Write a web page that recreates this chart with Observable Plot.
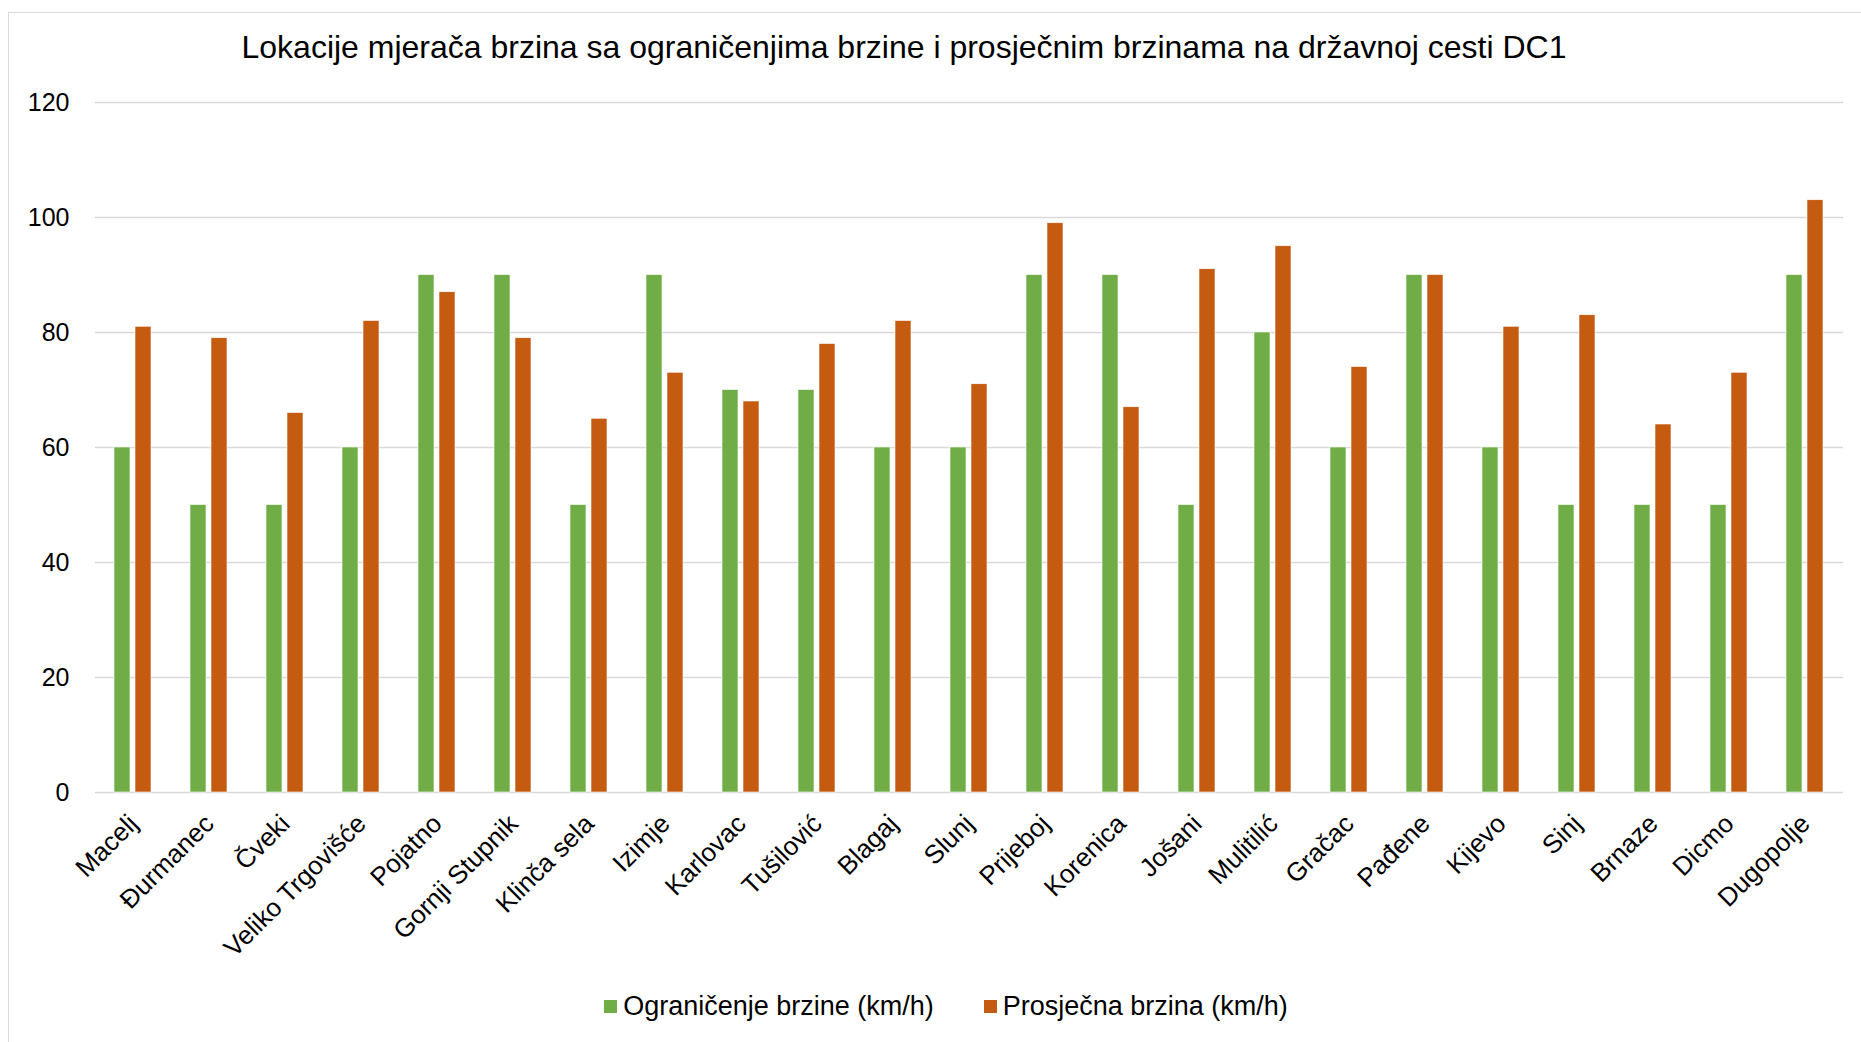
<!DOCTYPE html>
<html>
<head>
<meta charset="utf-8">
<script src="https://cdn.jsdelivr.net/npm/d3@7"></script>
<script src="https://cdn.jsdelivr.net/npm/@observablehq/plot@0.6"></script>
<style>
  html, body { margin: 0; padding: 0; background: #fff; }
  #page { position: relative; width: 1861px; height: 1042px; overflow: hidden; font-family: "Liberation Sans", Arial, sans-serif; color: #000; }
  #frame { position: absolute; left: 8px; top: 12px; width: 1900px; height: 1100px; border: 1.5px solid #d9d9d9; box-sizing: border-box; }
  #title { position: absolute; left: 0; width: 1808px; top: 27px; text-align: center; font-size: 32px; line-height: 40px; white-space: nowrap; }
  #chart { position: absolute; left: 0; top: 0; }
  #legend { position: absolute; left: 0; width: 1892px; top: 988px; display: flex; justify-content: center; gap: 50px; font-size: 27px; line-height: 36px; }
  .item { display: flex; align-items: center; }
  .sw { width: 13px; height: 13px; margin-right: 6px; }
</style>
</head>
<body>
<div id="page">
  <div id="frame"></div>
  <div id="title"></div>
  <div id="chart"></div>
  <div id="legend"></div>
</div>
<script>
const titleText = "Lokacije mjerača brzina sa ograničenjima brzine i prosječnim brzinama na državnoj cesti DC1";
const locations = ["Macelj", "Đurmanec", "Čveki", "Veliko Trgovišće", "Pojatno", "Gornji Stupnik", "Klinča sela", "Izimje", "Karlovac", "Tušilović", "Blagaj", "Slunj", "Prijeboj", "Korenica", "Jošani", "Mulitilić", "Gračac", "Pađene", "Kijevo", "Sinj", "Brnaze", "Dicmo", "Dugopolje"];
const speedLimit = [60, 50, 50, 60, 90, 90, 50, 90, 70, 70, 60, 60, 90, 90, 50, 80, 60, 90, 60, 50, 50, 50, 90];
const averageSpeed = [81, 79, 66, 82, 87, 79, 65, 73, 68, 78, 82, 71, 99, 67, 91, 95, 74, 90, 81, 83, 64, 73, 103];
const seriesNames = ["Ograničenje brzine (km/h)", "Prosječna brzina (km/h)"];
const seriesColors = ["#70AD47", "#C55A11"];
const yTicks = [0, 20, 40, 60, 80, 100, 120];

const data = [];
locations.forEach((loc, i) => {
  data.push({loc, series: seriesNames[0], value: speedLimit[i]});
  data.push({loc, series: seriesNames[1], value: averageSpeed[i]});
});

document.getElementById("title").textContent = titleText;

const chart = Plot.plot({
  width: 1861,
  height: 1000,
  marginLeft: 93,
  marginRight: 16,
  marginTop: 102,
  marginBottom: 208,
  style: {fontFamily: "'Liberation Sans', Arial, sans-serif", fontSize: "25px", color: "#000", background: "transparent", overflow: "visible"},
  fx: {domain: locations, padding: 0, label: null, axis: "bottom", tickRotate: -45, tickSize: 0, tickPadding: 27},
  x: {domain: seriesNames, paddingInner: 0.227, paddingOuter: 0.845, axis: null},
  y: {domain: [0, 120], ticks: yTicks, tickSize: 0, tickPadding: 26, label: null},
  color: {domain: seriesNames, range: seriesColors},
  marks: [
    Plot.gridY(yTicks, {stroke: "#d9d9d9", strokeOpacity: 1, strokeWidth: 1.4}),
    Plot.barY(data, {fx: "loc", x: "series", y: "value", fill: "series", stroke: "#fff", strokeWidth: 0.6})
  ]
});
chart.querySelectorAll("g[aria-label='fx-axis tick label'] text").forEach(t => t.setAttribute("font-size", "26px"));
document.getElementById("chart").appendChild(chart);

const legend = document.getElementById("legend");
seriesNames.forEach((name, i) => {
  const item = document.createElement("div");
  item.className = "item";
  const sw = document.createElement("span");
  sw.className = "sw";
  sw.style.background = seriesColors[i];
  const label = document.createElement("span");
  label.textContent = name;
  item.appendChild(sw);
  item.appendChild(label);
  legend.appendChild(item);
});
</script>
</body>
</html>
